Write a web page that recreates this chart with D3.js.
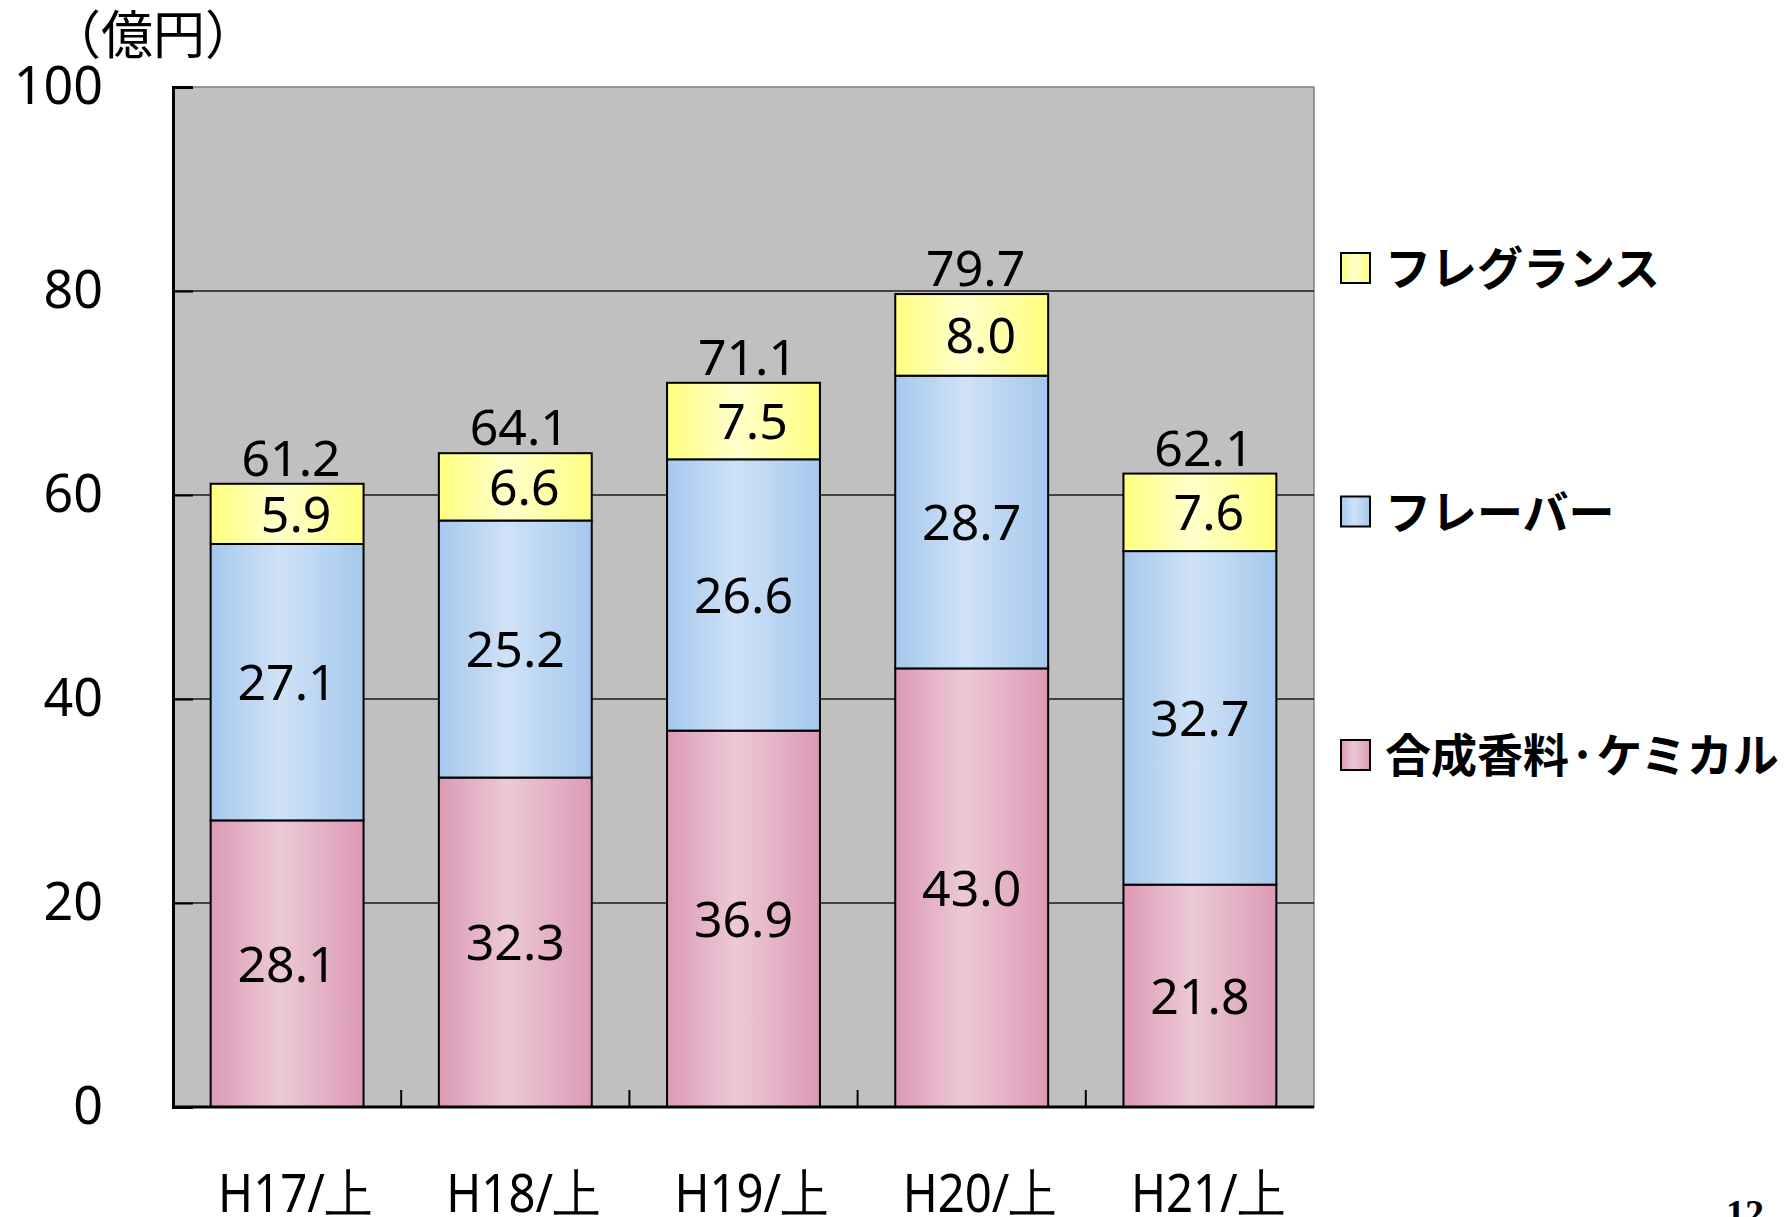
<!DOCTYPE html>
<html>
<head>
<meta charset="utf-8">
<script src="https://cdn.jsdelivr.net/npm/d3@7"></script>
<style>
body { margin: 0; background: #fff; }
</style>
</head>
<body>
<div id="chart"></div>
<script>
// data
var categories = ["H17/上", "H18/上", "H19/上", "H20/上", "H21/上"];
var chemical  = [28.1, 32.3, 36.9, 43.0, 21.8];
var flavor    = [27.1, 25.2, 26.6, 28.7, 32.7];
var fragrance = [5.9, 6.6, 7.5, 8.0, 7.6];
var totals    = [61.2, 64.1, 71.1, 79.7, 62.1];
var seriesNames = ["合成香料·ケミカル", "フレーバー", "フレグランス"];
var yTicks = [0, 20, 40, 60, 80, 100];
var unitLabel = "（億円）";
var pageNo = "12";

var W = 1789, H = 1217;
var margin = {top: 87, right: 475, bottom: 110, left: 173};
var width = W - margin.left - margin.right;
var height = H - margin.top - margin.bottom;

var numFont = "'Noto Sans', 'DejaVu Sans', sans-serif";
var jpFont = "'Noto Sans CJK JP', 'Noto Sans', sans-serif";

var svg = d3.select("#chart").append("svg")
    .attr("width", W)
    .attr("height", H);

// gradients
var defs = svg.append("defs");
var gradColors = [
    ["#dc9ab4", "#ecc9d7"],   // chemical
    ["#a5c8ed", "#cfe2f7"],   // flavor
    ["#ffff80", "#ffffcc"]    // fragrance
];
gradColors.forEach(function(c, i) {
    var g = defs.append("linearGradient")
        .attr("id", "grad" + i)
        .attr("x1", "0%").attr("x2", "100%")
        .attr("y1", "0%").attr("y2", "0%");
    g.append("stop").attr("offset", "0%").attr("stop-color", c[0]);
    g.append("stop").attr("offset", "45%").attr("stop-color", c[1]);
    g.append("stop").attr("offset", "100%").attr("stop-color", c[0]);
});

var g = svg.append("g")
    .attr("transform", "translate(" + margin.left + "," + margin.top + ")");

var xScale = d3.scaleBand()
    .domain(categories)
    .range([0, width])
    .paddingInner(0.33)
    .paddingOuter(0.165);

var yScale = d3.scaleLinear()
    .domain([0, 100])
    .range([height, 0]);

// plot background
g.append("rect")
    .attr("width", width)
    .attr("height", height)
    .attr("fill", "#c0c0c0")
    .attr("stroke", "#808080")
    .attr("stroke-width", 1.5);

// gridlines
g.selectAll(".grid")
    .data(yTicks.filter(function(d) { return d > 0 && d < 100; }))
    .enter().append("line")
    .attr("x1", 0).attr("x2", width)
    .attr("y1", function(d) { return yScale(d); })
    .attr("y2", function(d) { return yScale(d); })
    .attr("stroke", "#1a1a1a")
    .attr("stroke-width", 1.5);

// stacked bars
var stackData = categories.map(function(c, i) {
    return {cat: c, chemical: chemical[i], flavor: flavor[i], fragrance: fragrance[i]};
});
var stack = d3.stack().keys(["chemical", "flavor", "fragrance"]);
var series = stack(stackData);

var layers = g.selectAll(".layer")
    .data(series)
    .enter().append("g")
    .attr("class", "layer")
    .attr("fill", function(d, i) { return "url(#grad" + i + ")"; });

layers.selectAll("rect")
    .data(function(d) { return d; })
    .enter().append("rect")
    .attr("x", function(d) { return xScale(d.data.cat); })
    .attr("y", function(d) { return yScale(d[1]); })
    .attr("width", xScale.bandwidth())
    .attr("height", function(d) { return yScale(d[0]) - yScale(d[1]); })
    .attr("stroke", "#000")
    .attr("stroke-width", 2);

// segment labels
series.forEach(function(s, si) {
    g.selectAll(".lbl" + si)
        .data(s)
        .enter().append("text")
        .attr("x", function(d) { return xScale(d.data.cat) + xScale.bandwidth() / 2 + (si == 2 ? 9 : 0); })
        .attr("y", function(d) { return yScale((d[0] + d[1]) / 2); })
        .attr("dy", "0.36em")
        .attr("text-anchor", "middle")
        .style("font-family", numFont)
        .style("font-size", "50px")
        .text(function(d) { return d.data[s.key].toFixed(1); });
});

// total labels
g.selectAll(".total")
    .data(totals)
    .enter().append("text")
    .attr("x", function(d, i) { return xScale(categories[i]) + xScale.bandwidth() / 2 + 4; })
    .attr("y", function(d, i) { return yScale(series[2][i][1]) - 8; })
    .attr("text-anchor", "middle")
    .style("font-family", numFont)
    .style("font-size", "50px")
    .text(function(d) { return d.toFixed(1); });

// y axis
var yAxis = g.append("g")
    .call(d3.axisLeft(yScale).tickValues(yTicks).tickSize(-20).tickPadding(70));
yAxis.select(".domain").attr("stroke", "#000").attr("stroke-width", 3);
yAxis.selectAll(".tick line").attr("stroke", "#000").attr("stroke-width", 2);
yAxis.selectAll(".tick text")
    .style("font-family", numFont)
    .style("font-size", "52px")
    .attr("fill", "#000");

// x axis
var bounds = categories.slice(1).map(function(c) {
    return xScale(c) - xScale.step() * xScale.paddingInner() / 2;
});
g.selectAll(".xtick")
    .data(bounds)
    .enter().append("line")
    .attr("x1", function(d) { return d; })
    .attr("x2", function(d) { return d; })
    .attr("y1", height)
    .attr("y2", height - 17)
    .attr("stroke", "#000")
    .attr("stroke-width", 2);
g.append("line")
    .attr("x1", 0).attr("x2", width)
    .attr("y1", height).attr("y2", height)
    .attr("stroke", "#000")
    .attr("stroke-width", 3);

g.selectAll(".xlabel")
    .data(categories)
    .enter().append("text")
    .attr("x", function(d) { return xScale(d) + xScale.bandwidth() / 2 + 8 - 77; })
    .attr("y", height + 105)
    .attr("textLength", 154)
    .attr("lengthAdjust", "spacingAndGlyphs")
    .style("font-family", numFont)
    .style("font-size", "52px")
    .text(function(d) { return d; });

// unit label
svg.append("text")
    .attr("x", 153)
    .attr("y", 54)
    .attr("text-anchor", "middle")
    .style("font-family", jpFont)
    .style("font-size", "52px")
    .text(unitLabel);

// legend
var legendX = 1341, legendTop = 268, legendStep = 243.5;
var legendItems = [2, 1, 0];
var legend = svg.selectAll(".legend")
    .data(legendItems)
    .enter().append("g")
    .attr("transform", function(d, i) { return "translate(" + legendX + "," + (legendTop + i * legendStep) + ")"; });
legend.append("rect")
    .attr("x", 0).attr("y", -15)
    .attr("width", 29).attr("height", 30)
    .attr("fill", function(d) { return "url(#grad" + d + ")"; })
    .attr("stroke", "#000")
    .attr("stroke-width", 2);
legend.append("text")
    .attr("x", 44)
    .attr("y", 0)
    .attr("dy", "0.38em")
    .style("font-family", jpFont)
    .style("font-weight", "bold")
    .style("font-size", "46px")
    .text(function(d) { return seriesNames[d]; });

// page number
svg.append("text")
    .attr("x", 1726)
    .attr("y", 1226)
    .style("font-family", "'Liberation Serif', serif")
    .style("font-weight", "bold")
    .style("font-size", "38px")
    .text(pageNo);
</script>
</body>
</html>
